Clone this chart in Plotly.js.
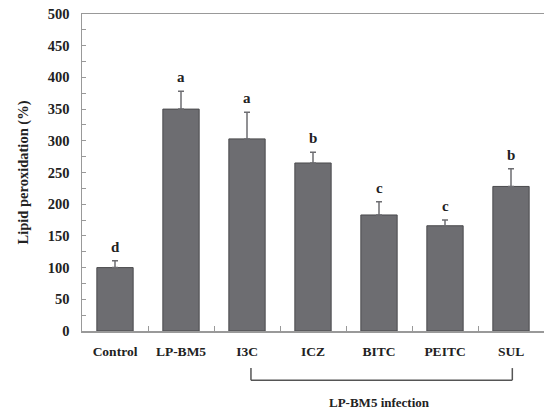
<!DOCTYPE html>
<html>
<head>
<meta charset="utf-8">
<script src="https://cdn.plot.ly/plotly-3.0.1.min.js"></script>
<style>
  html, body { margin: 0; padding: 0; background: #fff; }
  #chart { width: 544px; height: 410px; }
</style>
</head>
<body>
<div id="chart"></div>
<script>
// Lipid peroxidation by treatment group (mean, upper SD) with significance letters
const groups = ['Control', 'LP-BM5', 'I3C', 'ICZ', 'BITC', 'PEITC', 'SUL'];
const lipidPerox = [100, 350, 303, 265, 183, 166, 228];
const errUpper = [11, 28, 42, 17, 21, 9, 28];
const sigLetters = ['d', 'a', 'a', 'b', 'c', 'c', 'b'];
const yTicks = [0, 50, 100, 150, 200, 250, 300, 350, 400, 450, 500];
const infectionLabel = 'LP-BM5 infection';

const serif = 'Liberation Serif, Times New Roman, serif';

const trace = {
  type: 'bar',
  x: groups,
  y: lipidPerox,
  width: 0.55,
  marker: { color: '#6d6d71', line: { color: '#4a4a4d', width: 1 } },
  error_y: {
    type: 'data',
    array: errUpper,
    symmetric: false,
    arrayminus: groups.map(() => 0),
    color: '#6d6d71',
    thickness: 1.5,
    width: 3
  },
  hoverinfo: 'skip'
};

const letterNotes = groups.map((g, i) => ({
  x: g,
  y: lipidPerox[i] + errUpper[i],
  xref: 'x', yref: 'y',
  text: '<b>' + sigLetters[i] + '</b>',
  showarrow: false,
  yanchor: 'bottom',
  yshift: 4,
  font: { family: serif, size: 15, color: '#222' }
}));

// bracket grouping the infected, treated groups
const i0 = groups.indexOf('I3C') + 0.06;
const i1 = groups.indexOf('SUL') + 0.02;
const bracketTop = -0.117, bracketBottom = -0.155;
const lineStyle = { color: '#555', width: 1.5 };
const shapes = [
  { type: 'line', xref: 'x', yref: 'paper', x0: i0, x1: i0, y0: bracketTop, y1: bracketBottom, line: lineStyle },
  { type: 'line', xref: 'x', yref: 'paper', x0: i0, x1: i1, y0: bracketBottom, y1: bracketBottom, line: lineStyle },
  { type: 'line', xref: 'x', yref: 'paper', x0: i1, x1: i1, y0: bracketTop, y1: bracketBottom, line: lineStyle }
];

letterNotes.push({
  x: (groups.indexOf('I3C') + groups.indexOf('SUL')) / 2,
  y: -0.225,
  xref: 'x', yref: 'paper',
  text: '<b>' + infectionLabel + '</b>',
  showarrow: false,
  yanchor: 'middle',
  font: { family: serif, size: 13, color: '#222' }
});

const layout = {
  width: 544,
  height: 410,
  margin: { l: 82, r: 0, t: 14, b: 79 },
  paper_bgcolor: '#fff',
  plot_bgcolor: '#fff',
  showlegend: false,
  bargap: 0.45,
  xaxis: {
    type: 'category',
    showline: true,
    linecolor: '#999',
    linewidth: 1.5,
    mirror: true,
    ticks: 'inside',
    tickson: 'boundaries',
    ticklen: 5,
    tickcolor: '#999',
    ticklabelstandoff: 7,
    tickfont: { family: serif, size: 13.5, color: '#222', weight: 'bold' },
    showgrid: false,
    zeroline: false,
    fixedrange: true
  },
  yaxis: {
    range: [0, 500],
    tickvals: yTicks,
    ticktext: yTicks.map(String),
    showline: true,
    linecolor: '#999',
    linewidth: 1.5,
    ticks: 'inside',
    ticklen: 4,
    tickcolor: '#999',
    minor: { dtick: 25, ticks: 'inside', ticklen: 4, tickcolor: '#999' },
    ticklabelstandoff: 8,
    tickfont: { family: serif, size: 14.5, color: '#222', weight: 'bold' },
    title: {
      text: '<b>Lipid peroxidation (%)</b>',
      font: { family: serif, size: 14.5, color: '#222' },
      standoff: 16
    },
    showgrid: false,
    zeroline: false,
    fixedrange: true
  },
  annotations: letterNotes,
  shapes: shapes
};

Plotly.newPlot('chart', [trace], layout, { displayModeBar: false, staticPlot: true });
</script>
</body>
</html>
